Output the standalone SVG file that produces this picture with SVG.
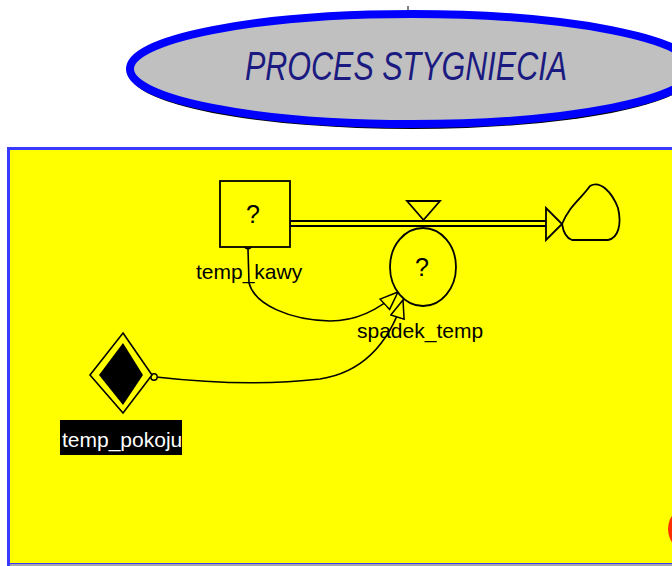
<svg xmlns="http://www.w3.org/2000/svg" width="672" height="566" viewBox="0 0 672 566">
<style>
.lbl{font-family:"Liberation Sans",Arial,sans-serif;font-size:21px;fill:#000}
.q{font-family:"Liberation Sans",Arial,sans-serif;font-size:25px;fill:#000;text-anchor:middle}
.ln{fill:none;stroke:#000;stroke-width:1.6}
.shape{fill:#ffff00;stroke:#000;stroke-width:1.8}
</style>
<defs>
<marker id="hollow" markerUnits="userSpaceOnUse" markerWidth="22" markerHeight="18" refX="19" refY="8" orient="auto">
<path d="M1,1 L19,8 L1,15 Z" fill="#ffff00" stroke="#000" stroke-width="1.5"/>
</marker>
</defs>
<rect width="672" height="566" fill="#ffffff"/>
<g id="title">
<line x1="408" y1="6" x2="408" y2="12" stroke="#000" stroke-width="1"/>
<ellipse cx="412" cy="74" rx="282" ry="55" fill="#000"/>
<ellipse cx="412" cy="69" rx="282" ry="55" fill="#c0c0c0" stroke="#0000ff" stroke-width="8"/>
<text x="406" y="80" font-family="'Liberation Sans',Arial,sans-serif" font-style="italic" font-size="41" fill="#1a1a80" text-anchor="middle" textLength="322" lengthAdjust="spacingAndGlyphs">PROCES STYGNIECIA</text>
</g>
<g id="panel">
<rect x="8.5" y="148.5" width="700" height="416" fill="#ffff00" stroke="#3a3aff" stroke-width="3"/>
<line x1="10" y1="565" x2="672" y2="565" stroke="#c8c890" stroke-width="1.5"/>
</g>
<g id="connectors">
<line x1="290" y1="221" x2="548" y2="221" stroke="#000" stroke-width="2"/>
<line x1="290" y1="226" x2="548" y2="226" stroke="#000" stroke-width="2"/>
<path class="ln" d="M248,249 L249,283 C255,305 290,320 330,321 C360,321 383,306 398,292" marker-end="url(#hollow)"/>
<path class="ln" d="M156,377 C200,382 260,386 320,379 C365,372 390,340 403,300" marker-end="url(#hollow)"/>
<circle cx="248" cy="245.5" r="3.2" fill="#ffff00" stroke="#000" stroke-width="1.4"/>
<circle cx="154" cy="377" r="3.2" fill="#ffff00" stroke="#000" stroke-width="1.4"/>
</g>
<g id="temp_kawy">
<rect class="shape" x="220" y="181" width="70" height="66"/>
<text class="q" x="253" y="223">?</text>
<text class="lbl" x="196" y="279">temp_kawy</text>
</g>
<g id="valve">
<polygon class="shape" points="407,201 440,201 423.5,220"/>
</g>
<g id="spadek_temp">
<ellipse class="shape" cx="423" cy="267" rx="33" ry="39"/>
<text class="q" x="422" y="276">?</text>
<text class="lbl" x="357" y="338">spadek_temp</text>
</g>
<g id="cloud">
<polygon class="shape" points="546,208 546,240 562,224"/>
<path class="shape" d="M562,224 C570,205 580,200 590,186 C600,180 612,192 618,208 C622,225 618,238 608,240 L572,240 C566,238 563,230 562,224 Z"/>
</g>
<g id="temp_pokoju">
<polygon points="123,333 152,375 123,413 90,375" fill="#ffff00" stroke="#000" stroke-width="1.6"/>
<polygon points="123,343 143,375 123,405 99,375" fill="#000"/>
<rect x="60" y="420" width="122" height="35" fill="#000"/>
<text class="lbl" x="62" y="447" style="fill:#fff">temp_pokoju</text>
</g>
<g id="badge">
<circle cx="692" cy="529" r="24" fill="#ff3000"/>
</g>
</svg>
